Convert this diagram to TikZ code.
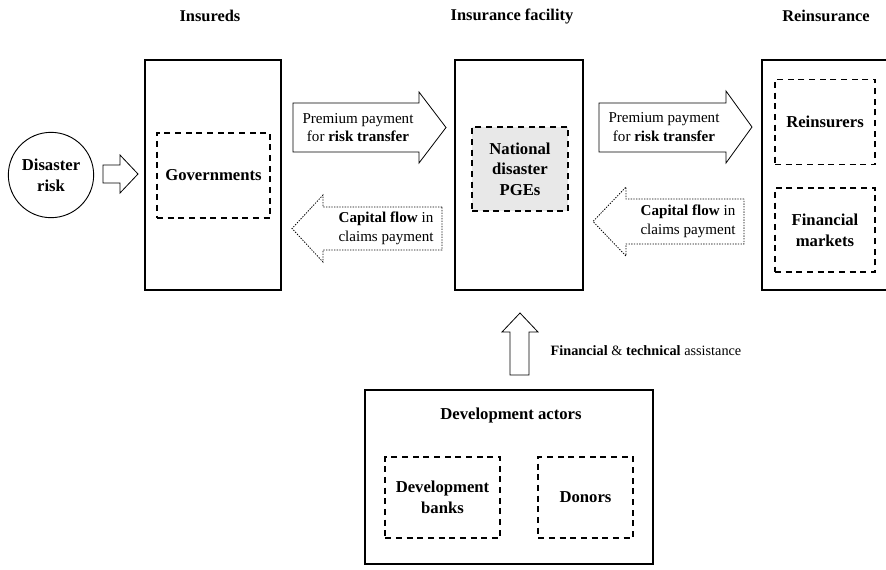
\documentclass[tikz,border=0pt]{standalone}
\usepackage{fontspec}
\setmainfont{Liberation Serif}
\usepackage{tikz}
\usetikzlibrary{calc}
\usetikzlibrary{shapes.geometric}

\begin{document}
\begin{tikzpicture}[x=0.75pt, y=-0.75pt,
        outerbox/.style={draw, line width=1.6pt, minimum width=96pt, minimum height=172.5pt},
        innerbox/.style={draw, line width=1.1pt, dash pattern=on 4.5pt off 3.5pt, align=center,
            font=\fontsize{12.5}{15.5}\selectfont\bfseries},
        heading/.style={font=\fontsize{12.3}{14}\selectfont\bfseries},
        fatarrow/.style={draw, line width=0.6pt, line join=miter},
        dotarrow/.style={draw, line width=0.6pt, dash pattern=on 1pt off 1pt},
        arrowtext/.style={align=center, font=\fontsize{11.3}{14}\selectfont}]
        \useasboundingbox (0,0) rectangle (886,569);

        % column headings
        \node[heading] (hInsureds) at (210, 16) {Insureds};
        \node[heading] (hFacility) at (512, 16) {Insurance facility};
        \node[heading] (hReins) at (826, 16) {Reinsurance};

        % the three columns
        \node[outerbox, minimum width=102pt] (insureds) at (213, 175) {};
        \node[outerbox] (facility) at (519, 175) {};
        \node[outerbox] (reins) at (826, 175) {};

        \node[innerbox, minimum width=85pt, minimum height=64pt] (gov) at (213.5, 175.5) {Governments};
        \node[innerbox, fill=gray!18, minimum width=72pt, minimum height=63pt] (pge) at (520, 169)
            {National\\disaster\\PGEs};
        \node[innerbox, minimum width=75pt, minimum height=64pt] (reinsurers) at (825, 122) {Reinsurers};
        \node[innerbox, minimum width=75pt, minimum height=63pt] (markets) at (825, 230)
            {Financial\\markets};

        % disaster risk
        \node[draw, circle, line width=0.7pt, minimum size=64pt, inner sep=0pt, align=center,
            font=\fontsize{12.5}{15.5}\selectfont\bfseries] (risk) at (51, 175) {Disaster\\risk};
        \draw[fatarrow] (103,165) -- (120,165) -- (120,155) -- (138,174) -- (120,193)
            -- (120,183) -- (103,183) -- cycle;

        % premium payments
        \draw[fatarrow] (293,103) -- (419,103) -- (419,92) -- (446,127.5) -- (419,163)
            -- (419,152) -- (293,152) -- cycle;
        \node[arrowtext] (premA) at (358, 127.5) {Premium payment\\for \textbf{risk transfer}};
        \draw[fatarrow] (599,103) -- (726,103) -- (726,91) -- (752,127) -- (726,163)
            -- (726,152) -- (599,152) -- cycle;
        \node[arrowtext] (premB) at (664, 127) {Premium payment\\for \textbf{risk transfer}};

        % claims payments
        \draw[dotarrow] (442,207) -- (323,207) -- (323,195) -- (292,228.5) -- (323,262)
            -- (323,250) -- (442,250) -- cycle;
        \node[arrowtext] (capA) at (386, 228.5) {\textbf{Capital flow} in\\claims payment};
        \draw[dotarrow] (744,199) -- (626,199) -- (626,187) -- (593,221.5) -- (626,256)
            -- (626,244) -- (744,244) -- cycle;
        \node[arrowtext] (capB) at (688, 221.5) {\textbf{Capital flow} in\\claims payment};

        % development actors
        \node[draw, line width=1.6pt, minimum width=216pt, minimum height=131pt] (dev) at (509, 477) {};
        \node[font=\fontsize{12.5}{15}\selectfont\bfseries] (devTitle) at (511, 415) {Development actors};
        \node[innerbox, minimum width=86pt, minimum height=61pt] (banks) at (442.5, 497.5)
            {Development\\banks};
        \node[innerbox, minimum width=71pt, minimum height=61pt] (donors) at (585.5, 497.5) {Donors};

        \draw[fatarrow] (510,375) -- (510,332) -- (502,332) -- (520,313) -- (538,332)
            -- (529,332) -- (529,375) -- cycle;
        \node[anchor=west, font=\fontsize{10.7}{13}\selectfont] (assist) at (546, 351)
            {\textbf{Financial} \& \textbf{technical} assistance};
\end{tikzpicture}
\end{document}
